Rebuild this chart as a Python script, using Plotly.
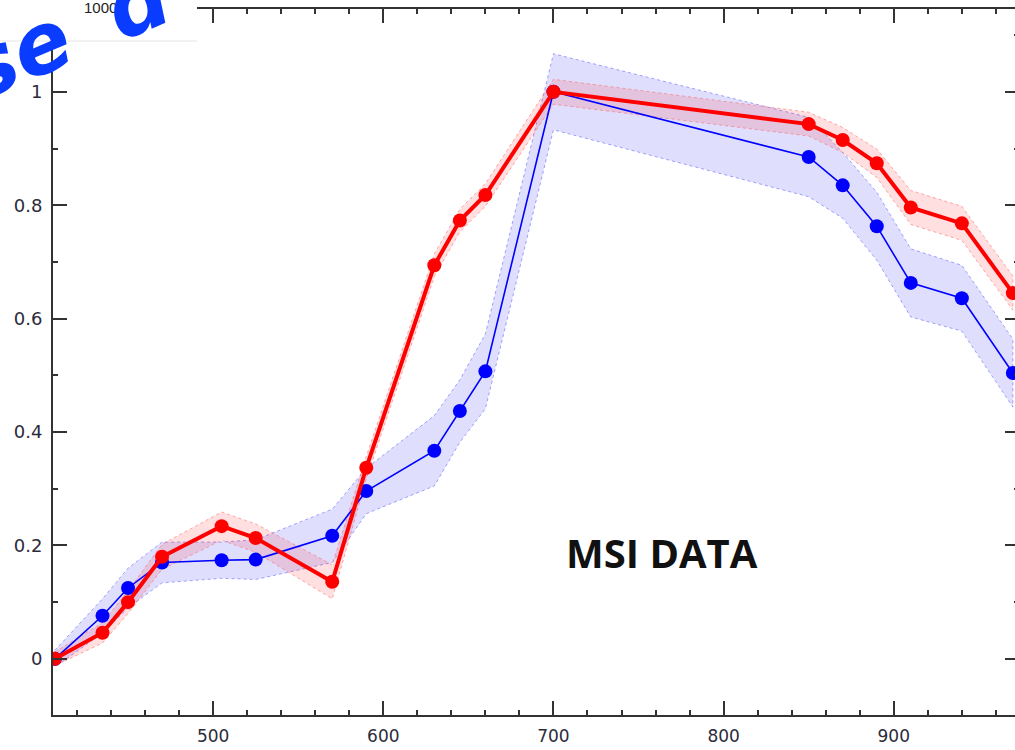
import plotly.graph_objects as go

wavelength = [407, 435, 450, 470, 505, 525, 570, 590, 630, 645, 660, 700, 850, 870, 890, 910, 940, 970]
blue_mean = [0.0, 0.076, 0.125, 0.170, 0.174, 0.175, 0.217, 0.296, 0.367, 0.437, 0.507, 1.0, 0.885, 0.835, 0.763, 0.663, 0.636, 0.504]
blue_err = [0.015, 0.03, 0.035, 0.036, 0.032, 0.035, 0.047, 0.04, 0.062, 0.055, 0.066, 0.067, 0.07, 0.058, 0.06, 0.06, 0.058, 0.06]
red_mean = [0.0, 0.046, 0.100, 0.180, 0.234, 0.213, 0.136, 0.337, 0.694, 0.773, 0.818, 1.0, 0.943, 0.915, 0.874, 0.796, 0.768, 0.645]
red_err = [0.012, 0.018, 0.02, 0.022, 0.025, 0.025, 0.03, 0.02, 0.02, 0.02, 0.02, 0.022, 0.021, 0.022, 0.025, 0.03, 0.03, 0.03]

x_range = [405.9, 973.6]
y_range = [-0.099, 1.146]

FIG_W = 1019
PLOT_W = FIG_W - 53

def band(mean, err, fill, edge):
    upper = [m + e for m, e in zip(mean, err)]
    lower = [m - e for m, e in zip(mean, err)]
    return go.Scatter(
        x=wavelength + wavelength[::-1],
        y=upper + lower[::-1],
        fill="toself", fillcolor=fill,
        line=dict(color=edge, width=1, dash="dot"),
        mode="lines", hoverinfo="skip", showlegend=False,
    )

fig = go.Figure()
fig.add_trace(band(blue_mean, blue_err, "rgba(40,40,240,0.15)", "rgba(90,90,255,0.55)"))
fig.add_trace(band(red_mean, red_err, "rgba(255,40,40,0.15)", "rgba(255,110,110,0.6)"))
fig.add_trace(go.Scatter(x=wavelength, y=blue_mean, mode="lines+markers",
                         line=dict(color="#0000ff", width=1.6),
                         marker=dict(color="#0000ff", size=14), showlegend=False))
fig.add_trace(go.Scatter(x=wavelength, y=red_mean, mode="lines+markers",
                         line=dict(color="#ff0000", width=4),
                         marker=dict(color="#ff0000", size=14), showlegend=False))

axis_common = dict(
    showgrid=False, zeroline=False, showline=True, linecolor="#333333", linewidth=2,
    mirror="allticks", ticks="inside", ticklen=14, tickwidth=2, tickcolor="#333333",
    automargin=False,
)
fig.update_xaxes(range=x_range, dtick=100, tick0=500,
                 minor=dict(dtick=20, ticks="inside", ticklen=5, tickwidth=2, tickcolor="#333333"),
                 ticklabelstandoff=5,
                 tickfont=dict(family="DejaVu Sans", size=17, color="#2b2b3b"), **axis_common)
fig.update_yaxes(range=y_range, dtick=0.2, tick0=0,
                 minor=dict(dtick=0.1, ticks="inside", ticklen=5, tickwidth=2, tickcolor="#333333"),
                 ticklabelstandoff=5,
                 tickfont=dict(family="DejaVu Sans", size=18, color="#2b2b3b"), **axis_common)

fig.add_annotation(x=764, y=0.187, text="<b>MSI DATA</b>", showarrow=False,
                   font=dict(family="Open Sans", size=40, color="#111111"))

# top-left overlay box
fig.add_shape(type="rect", xref="paper", yref="paper",
              x0=-53/PLOT_W, x1=(197-53)/PLOT_W, y0=(715-41)/706, y1=(715+5)/706 + 0.05,
              fillcolor="white", line=dict(width=0), layer="above")
fig.add_shape(type="line", xref="paper", yref="paper",
              x0=-53/PLOT_W, x1=(197-53)/PLOT_W, y0=(715-41)/706, y1=(715-41)/706,
              line=dict(color="#e4e4e0", width=1), layer="above")
fig.add_annotation(xref="paper", yref="paper", x=(100-53)/PLOT_W, y=(715-8)/706,
                   xanchor="center", yanchor="middle",
                   text="1000", showarrow=False,
                   font=dict(family="Liberation Sans", size=15, color="#222222"))
fig.add_annotation(xref="paper", yref="paper", x=(67-53)/PLOT_W, y=(715-33)/706,
                   xanchor="center", yanchor="middle",
                   text="<b><i>se \u2009d</i></b>", showarrow=False, textangle=-23,
                   font=dict(family="DejaVu Sans", size=84, color="#0a3cff"))

fig.update_layout(
    width=FIG_W, height=750,
    margin=dict(l=53, r=0, t=9, b=35, autoexpand=False),
    plot_bgcolor="white", paper_bgcolor="white",
    showlegend=False,
)
fig.write_html("out.html", config={"displayModeBar": False},
               post_script="document.body.style.margin='0';document.body.style.overflow='hidden';")
